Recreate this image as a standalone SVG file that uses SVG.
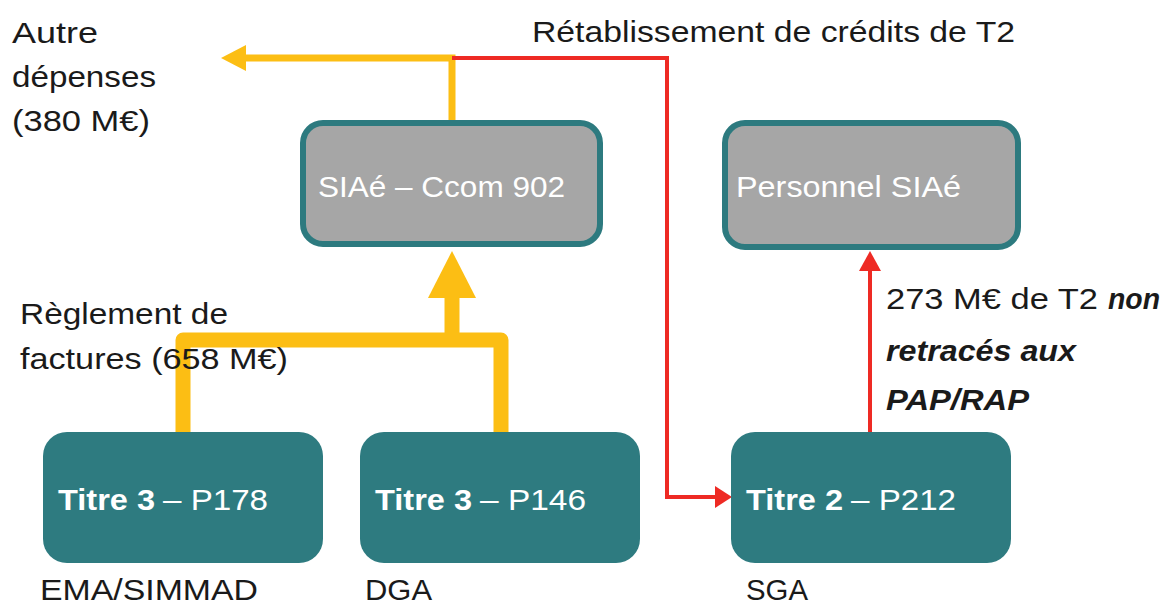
<svg xmlns="http://www.w3.org/2000/svg" width="1164" height="606" viewBox="0 0 1164 606">
<style>
.t{font-family:"Liberation Sans",Arial,sans-serif;font-size:29px;fill:#1a1a1a}
.w{fill:#ffffff}
.b{font-weight:bold}
.bi{font-weight:bold;font-style:italic}
.gbox{fill:#a6a6a6;stroke:#2d7a7f;stroke-width:6}
.tbox{fill:#2e7b80}
.y{fill:none;stroke:#fcbe14}
.r{fill:none;stroke:#ee2a24;stroke-width:4}
</style>
<rect width="1164" height="606" fill="#ffffff"/>
<g id="connectors">
  <polyline class="y" stroke-width="7" points="452,122 452,58 240,58"/>
  <polygon points="221,58 246,45 246,71" fill="#fcbe14"/>
  <polyline class="r" points="452,58 667,58 667,497 718,497"/>
  <polygon points="732,497 715,486 715,508" fill="#ee2a24"/>
  <polyline class="y" stroke-width="15" stroke-linejoin="round" points="183,432 183,340 501,340 501,432"/>
  <line class="y" stroke-width="15" x1="452" y1="340" x2="452" y2="295"/>
  <polygon points="452,251 428,298 476,298" fill="#fcbe14"/>
  <line class="r" x1="870" y1="432" x2="870" y2="268"/>
  <polygon points="870,251 859,271 881,271" fill="#ee2a24"/>
</g>
<g id="n-siae">
  <rect class="gbox" x="303" y="123" width="297" height="121" rx="20"/>
  <text class="t w" x="318" y="197" textLength="247" lengthAdjust="spacingAndGlyphs">SIAé – Ccom 902</text>
</g>
<g id="n-personnel">
  <rect class="gbox" x="725" y="123" width="293" height="124" rx="20"/>
  <text class="t w" x="736" y="197" textLength="225" lengthAdjust="spacingAndGlyphs">Personnel SIAé</text>
</g>
<g id="n-p178">
  <rect class="tbox" x="43" y="432" width="280" height="131" rx="24"/>
  <text class="t w b" x="58" y="510" textLength="97" lengthAdjust="spacingAndGlyphs">Titre 3</text>
  <text class="t w" x="163" y="510" textLength="105" lengthAdjust="spacingAndGlyphs">– P178</text>
</g>
<g id="n-p146">
  <rect class="tbox" x="360" y="432" width="280" height="131" rx="24"/>
  <text class="t w b" x="375" y="510" textLength="97" lengthAdjust="spacingAndGlyphs">Titre 3</text>
  <text class="t w" x="480" y="510" textLength="106" lengthAdjust="spacingAndGlyphs">– P146</text>
</g>
<g id="n-p212">
  <rect class="tbox" x="731" y="432" width="280" height="131" rx="24"/>
  <text class="t w b" x="746" y="510" textLength="97" lengthAdjust="spacingAndGlyphs">Titre 2</text>
  <text class="t w" x="851" y="510" textLength="105" lengthAdjust="spacingAndGlyphs">– P212</text>
</g>
<g id="labels">
  <text class="t" x="12" y="43" textLength="86" lengthAdjust="spacingAndGlyphs">Autre</text>
  <text class="t" x="12" y="87" textLength="144" lengthAdjust="spacingAndGlyphs">dépenses</text>
  <text class="t" x="12" y="131" textLength="138" lengthAdjust="spacingAndGlyphs">(380 M€)</text>
  <text class="t" x="532" y="42" textLength="483" lengthAdjust="spacingAndGlyphs">Rétablissement de crédits de T2</text>
  <text class="t" x="20" y="324" textLength="208" lengthAdjust="spacingAndGlyphs">Règlement de</text>
  <text class="t" x="20" y="369" textLength="268" lengthAdjust="spacingAndGlyphs">factures (658 M€)</text>
  <text class="t" x="886" y="309" textLength="212" lengthAdjust="spacingAndGlyphs">273 M€ de T2</text>
  <text class="t bi" x="1108" y="309" textLength="52" lengthAdjust="spacingAndGlyphs">non</text>
  <text class="t bi" x="886" y="361" textLength="190" lengthAdjust="spacingAndGlyphs">retracés aux</text>
  <text class="t bi" x="886" y="410" textLength="143" lengthAdjust="spacingAndGlyphs">PAP/RAP</text>
  <text class="t" x="40" y="600" textLength="218" lengthAdjust="spacingAndGlyphs">EMA/SIMMAD</text>
  <text class="t" x="365" y="600" textLength="67" lengthAdjust="spacingAndGlyphs">DGA</text>
  <text class="t" x="746" y="600" textLength="62" lengthAdjust="spacingAndGlyphs">SGA</text>
</g>
</svg>
